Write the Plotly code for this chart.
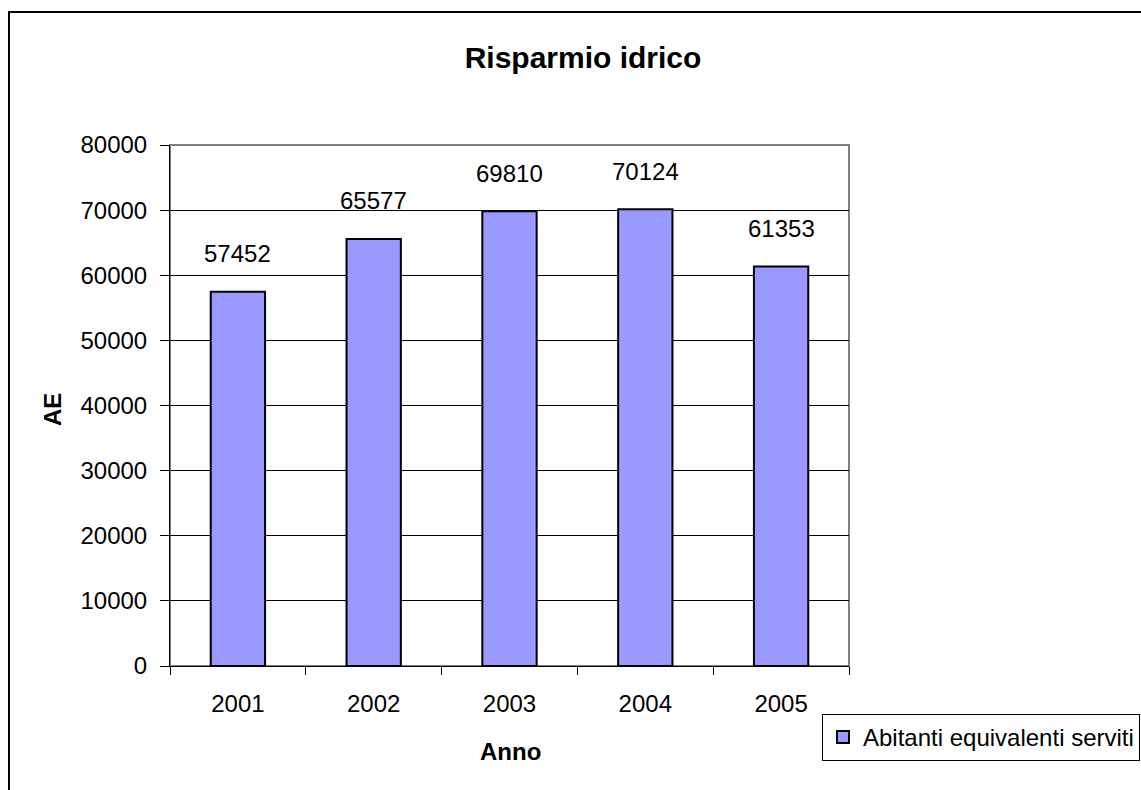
import plotly.graph_objects as go

years = ["2001", "2002", "2003", "2004", "2005"]
values = [57452, 65577, 69810, 70124, 61353]
series_name = "Abitanti equivalenti serviti"
y_ticks = [0, 10000, 20000, 30000, 40000, 50000, 60000, 70000, 80000]

FONT = "Liberation Sans, Arial, sans-serif"
FS = 24

fig = go.Figure()
fig.add_trace(go.Bar(
    x=years, y=values, name=series_name,
    marker=dict(color="#9999FF", line=dict(color="black", width=2)),
    width=0.4,
))

for i, v in enumerate(values):
    fig.add_annotation(x=i, y=v, text=str(v), showarrow=False,
                       yanchor="middle", yshift=38,
                       font=dict(family=FONT, size=FS, color="black"))

W, H = 1141, 790
L, R, T, B = 170, 292, 145, 124
pw, ph = W - L - R, H - T - B

def px(xp):
    return (xp - L) / pw

def py(yp):
    return (H - B - yp) / ph

# outer chart border
fig.add_shape(type="rect", xref="paper", yref="paper",
              x0=px(9), x1=px(W + 20), y0=py(12), y1=py(H + 20),
              line=dict(color="black", width=2), layer="below")
# plot area border (top/right gray)
fig.add_shape(type="rect", xref="paper", yref="paper",
              x0=0, x1=1, y0=0, y1=1,
              line=dict(color="#808080", width=2), layer="below")

# axis titles
fig.add_annotation(xref="paper", yref="paper", x=px(510), y=py(751),
                   text="<b>Anno</b>", showarrow=False,
                   xanchor="center", yanchor="middle",
                   font=dict(family=FONT, size=FS, color="black"))
fig.add_annotation(xref="paper", yref="paper", x=px(52), y=py(410),
                   text="<b>AE</b>", showarrow=False, textangle=-90,
                   xanchor="center", yanchor="middle",
                   font=dict(family=FONT, size=FS, color="black"))

fig.update_layout(
    width=W, height=H,
    margin=dict(l=L, r=R, t=T, b=B, autoexpand=False),
    paper_bgcolor="white", plot_bgcolor="white",
    font=dict(family=FONT, size=FS, color="black"),
    title=dict(text="<b>Risparmio idrico</b>", x=583 / W, xref="container",
               xanchor="center", y=1 - 57 / H, yref="container", yanchor="middle",
               font=dict(family=FONT, size=30, color="black")),
    showlegend=True,
    legend=dict(x=px(822), y=py(714), xanchor="left", yanchor="top",
                bordercolor="black", borderwidth=1, bgcolor="white",
                font=dict(family=FONT, size=FS, color="black"),
                itemwidth=30, tracegroupgap=0),
    bargap=0.6,
)

fig.update_xaxes(
    type="category", range=[-0.5, len(years) - 0.5],
    tickson="boundaries", ticks="outside", ticklen=8, tickangle=0,
    tickcolor="black", showline=True, linecolor="black", linewidth=1,
    showgrid=False, tickfont=dict(size=FS), ticklabelstandoff=16,
)
fig.update_yaxes(
    range=[0, 80000], tickvals=y_ticks, ticktext=[str(t) for t in y_ticks],
    ticks="outside", ticklen=9, tickcolor="black",
    showline=True, linecolor="black", linewidth=1,
    showgrid=True, gridcolor="black", gridwidth=1,
    zeroline=True, zerolinecolor="black", zerolinewidth=1,
    tickfont=dict(size=FS), ticklabelstandoff=8,
)

fig.write_html("out.html")
